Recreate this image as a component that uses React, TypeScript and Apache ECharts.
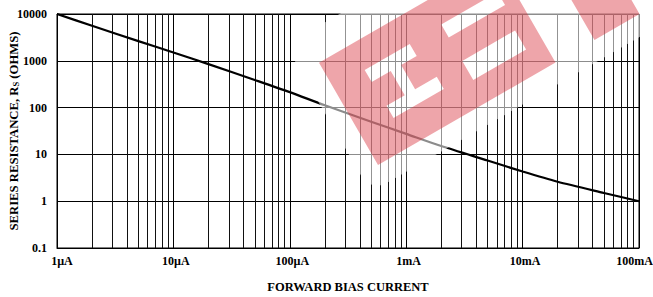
import React, { useEffect, useRef } from "react";
import * as echarts from "echarts";

// Forward bias current (µA) and series resistance (Ω)
const currentUA = [1, 2, 5, 10, 20, 50, 100, 200, 500, 1000, 2000, 5000, 10000, 20000, 50000, 100000];
const resistance = [10000, 5600, 2630, 1510, 850, 390, 214, 112, 50, 27.5, 15.1, 7.4, 4.3, 2.6, 1.5, 1.0];

const xTickLabels = ["1µA", "10µA", "100µA", "1mA", "10mA", "100mA"];
const yTickLabels = ["0.1", "1", "10", "100", "1000", "10000"];

// decades & multipliers for the minor (2..9) vertical grid lines
const decades = [1, 10, 100, 1000, 10000];
const minorMultipliers = [2, 3, 4, 5, 6, 7, 8, 9];

const FONT = "'Liberation Serif', 'Times New Roman', serif";

const LOGO_D =
  "M0 0 L205 0 L205 -118 L0 -118 Z " +
  "M36 -89 L88 -89 L88 -75 L70 -75 L70 -47 L95 -47 L95 -33 L37 -33 L37 -47 L58 -47 L58 -75 L36 -75 Z " +
  "M125 -90 L190 -90 L190 -75 L125 -75 Z " +
  "M125 -48 L186 -48 L186 -26 L125 -26 Z " +
  "M250 0 L302 0 L302 -89 L250 -89 Z " +
  "M205 -89 L345 -89 L345 -130 L205 -130 Z";

let registered = false;

export default function App() {
  const ref = useRef<HTMLDivElement>(null);

  useEffect(() => {
    document.body.style.margin = "0";
    if (!registered) {
      echarts.graphic.registerShape("eftLogo", echarts.graphic.extendPath(LOGO_D, {}) as any);
      registered = true;
    }
    const chart = echarts.init(ref.current!, undefined, { renderer: "svg" });

    const minors: number[] = [];
    decades.forEach((d) => minorMultipliers.forEach((m) => minors.push(d * m)));

    const labelStyle = {
      fontFamily: FONT,
      fontWeight: "bold" as const,
      fontSize: 12,
      color: "#000",
    };
    const richLabel = (padding: number[]) => ({ ...labelStyle, padding });

    chart.setOption({
      animation: false,
      grid: {
        left: 57,
        right: 14,
        top: 14,
        bottom: 49,
        containLabel: false,
        outerBoundsMode: "none",
        show: true,
        borderColor: "#000",
        borderWidth: 1,
        backgroundColor: "transparent",
      },
      xAxis: {
        type: "log",
        logBase: 10,
        min: 1,
        max: 100000,
        name: "FORWARD BIAS CURRENT",
        nameLocation: "middle",
        nameGap: 32,
        nameMoveOverlap: false,
        nameTextStyle: { fontFamily: FONT, fontWeight: "bold", fontSize: 12.5, color: "#000" },
        axisLine: { show: true, lineStyle: { color: "#000", width: 1 } },
        axisTick: { show: false },
        splitLine: { show: true, lineStyle: { color: "#000", width: 1 } },
        axisLabel: {
          ...labelStyle,
          margin: 7,
          formatter: (v: number) => {
            const i = Math.round(Math.log10(v));
            const t = xTickLabels[i] ?? "";
            if (i === 0) return `{first|${t}}`;
            if (i === xTickLabels.length - 1) return `{last|${t}}`;
            return `{n|${t}}`;
          },
          rich: {
            first: richLabel([0, 0, 0, 10]),
            n: richLabel([0, 0, 0, 5]),
            last: richLabel([0, 9, 0, 0]),
          },
        },
      },
      yAxis: {
        type: "log",
        logBase: 10,
        min: 0.1,
        max: 10000,
        name: "SERIES RESISTANCE, R{sub|S} (OHMS)",
        nameLocation: "middle",
        nameGap: 37,
        nameMoveOverlap: false,
        nameRotate: 90,
        nameTextStyle: {
          fontFamily: FONT,
          fontWeight: "bold",
          fontSize: 12.7,
          color: "#000",
          rich: {
            sub: {
              fontFamily: FONT,
              fontWeight: "bold",
              fontSize: 8.5,
              color: "#000",
              verticalAlign: "bottom",
              padding: [4, 0, 0, 0],
            },
          },
        },
        axisLine: { show: true, lineStyle: { color: "#000", width: 1 } },
        axisTick: { show: false },
        splitLine: { show: true, lineStyle: { color: "#000", width: 1 } },
        axisLabel: {
          ...labelStyle,
          margin: 10,
          formatter: (v: number) => yTickLabels[Math.round(Math.log10(v)) + 1] ?? "",
        },
      },
      series: [
        {
          type: "line",
          data: currentUA.map((x, i) => [x, resistance[i]]),
          smooth: 0.25,
          symbol: "none",
          lineStyle: { color: "#000", width: 2.2 },
          z: 3,
          markLine: {
            silent: true,
            symbol: ["none", "none"],
            label: { show: false },
            lineStyle: { color: "#111", width: 1, type: "solid" },
            data: minors.map((v) => ({ xAxis: v })),
            z: 1,
          },
        },
      ],
      graphic: [
        {
          type: "rect",
          x: 378,
          y: 165,
          rotation: Math.PI / 6,
          silent: true,
          z: 99,
          shape: { x: -20, y: -150, width: 345, height: 170, r: 18 },
          style: { fill: "rgba(255,255,255,0.55)" },
        },
        {
          type: "eftLogo",
          x: 378,
          y: 165,
          rotation: Math.PI / 6,
          silent: true,
          z: 100,
          style: { fill: "rgba(214,40,52,0.42)" },
        } as any,
      ],
    });

    return () => chart.dispose();
  }, []);

  return (
    <div
      ref={ref}
      style={{ position: "absolute", left: 0, top: 0, width: 653, height: 297 }}
    />
  );
}
